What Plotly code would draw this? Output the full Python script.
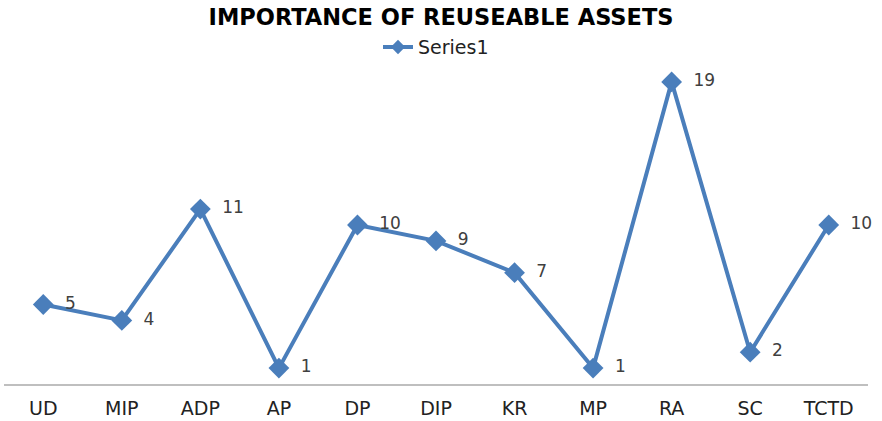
import plotly.graph_objects as go

categories = ["UD", "MIP", "ADP", "AP", "DP", "DIP", "KR", "MP", "RA", "SC", "TCTD"]
values = [5, 4, 11, 1, 10, 9, 7, 1, 19, 2, 10]
series_name = "Series1"
title_text = "IMPORTANCE OF REUSEABLE ASSETS"

blue = "#4a7ebb"

fig = go.Figure()
fig.add_trace(go.Scatter(
    x=categories, y=values, name=series_name, showlegend=False,
    mode="lines+markers+text",
    line=dict(color=blue, width=4),
    marker=dict(symbol="diamond", size=16, color=blue),
    text=["  " + str(v) for v in values],
    textposition="middle right",
    textfont=dict(family="DejaVu Sans", size=17, color="#404040"),
    cliponaxis=False,
))
# legend entry (smaller marker like the reference legend)
fig.add_trace(go.Scatter(
    x=[None], y=[None], name=series_name, mode="lines+markers",
    line=dict(color=blue, width=4),
    marker=dict(symbol="diamond", size=11, color=blue),
))

fig.update_layout(
    width=882, height=421,
    paper_bgcolor="white", plot_bgcolor="white",
    margin=dict(l=4, r=14, t=66, b=37, autoexpand=False),
    title=dict(text="<b>" + title_text + "</b>", x=0.5, xanchor="center",
               y=0.96, yanchor="middle",
               font=dict(family="DejaVu Sans", size=22.5, color="black")),
    showlegend=True,
    legend=dict(orientation="h", x=0.5, xanchor="center", yref="container", y=0.888, yanchor="middle",
                font=dict(family="DejaVu Sans", size=19, color="#222"),
                bgcolor="rgba(0,0,0,0)"),
    xaxis=dict(type="category", range=[-0.5, len(categories) - 0.5], autorange=False,
               showgrid=False, showline=True, linecolor="#bfbfbf", linewidth=2,
               ticks="", ticklabelstandoff=6,
               tickfont=dict(family="DejaVu Sans", size=19, color="#222"),
               zeroline=False, fixedrange=True, automargin=False),
    yaxis=dict(range=[0, 20], autorange=False, visible=False, showgrid=False, zeroline=False,
               automargin=False),
)

fig.write_html("out.html", config={"displayModeBar": False},
               post_script="document.body.style.margin='0';document.body.style.padding='0';")
